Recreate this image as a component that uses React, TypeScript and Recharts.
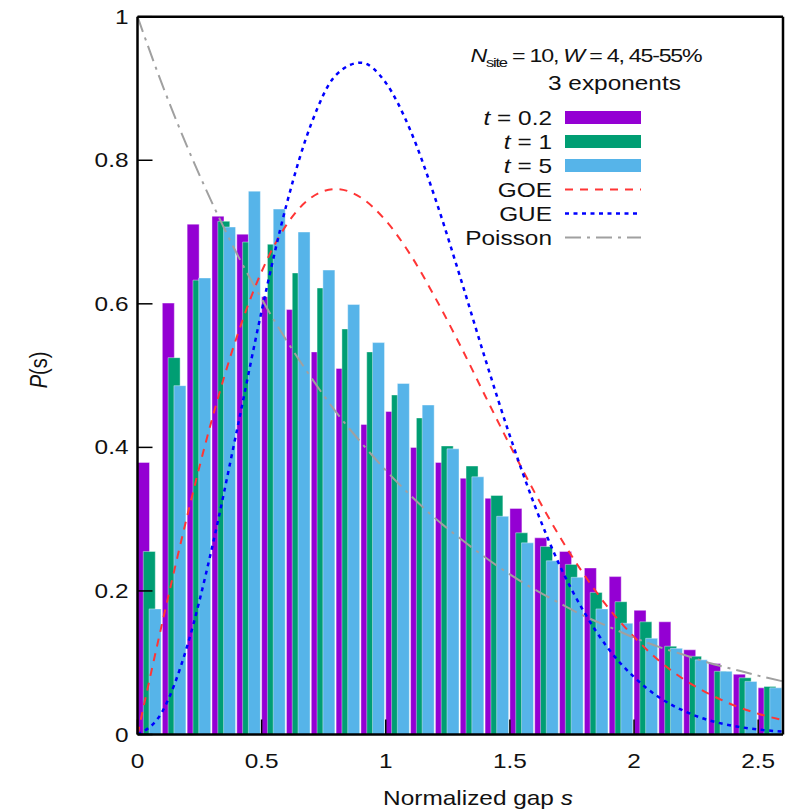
import { Bar, ComposedChart, Customized, Line, XAxis, YAxis } from "recharts";

// histogram bins (width 0.1), one bar per time slice
const binCentres = [
  0.05, 0.15, 0.25, 0.35, 0.45, 0.55, 0.65, 0.75, 0.85, 0.95, 1.05, 1.15, 1.25,
  1.35, 1.45, 1.55, 1.65, 1.75, 1.85, 1.95, 2.05, 2.15, 2.25, 2.35, 2.45, 2.55,
];
const pT02 = [
  0.379, 0.601, 0.711, 0.722, 0.697, 0.61, 0.592, 0.533, 0.51, 0.432, 0.45, 0.4, 0.379,
  0.357, 0.329, 0.315, 0.274, 0.255, 0.232, 0.22, 0.173, 0.157, 0.118, 0.099, 0.084, 0.065,
];
const pT1 = [
  0.255, 0.525, 0.633, 0.715, 0.686, 0.683, 0.643, 0.622, 0.565, 0.533, 0.473, 0.441, 0.402,
  0.374, 0.333, 0.281, 0.262, 0.237, 0.198, 0.185, 0.157, 0.123, 0.109, 0.088, 0.079, 0.067,
];
const pT5 = [
  0.175, 0.486, 0.636, 0.707, 0.757, 0.732, 0.7, 0.647, 0.599, 0.546, 0.489, 0.459, 0.398,
  0.359, 0.304, 0.267, 0.242, 0.219, 0.175, 0.155, 0.134, 0.12, 0.104, 0.088, 0.074, 0.065,
];

// reference distributions sampled on s = 0 .. 2.6
const sGrid = [
  0, 0.1, 0.2, 0.3, 0.4, 0.5, 0.6, 0.7, 0.8, 0.9, 1, 1.1, 1.2, 1.3,
  1.4, 1.5, 1.6, 1.7, 1.8, 1.9, 2, 2.1, 2.2, 2.3, 2.4, 2.5, 2.6,
];
const goe = [
  0, 0.156, 0.304, 0.439, 0.554, 0.645, 0.71, 0.748, 0.76, 0.748, 0.716, 0.668, 0.608, 0.542,
  0.472, 0.403, 0.337, 0.276, 0.222, 0.175, 0.136, 0.103, 0.077, 0.057, 0.041, 0.029, 0.02,
];
const gue = [
  0, 0.032, 0.123, 0.26, 0.423, 0.59, 0.738, 0.851, 0.919, 0.936, 0.908, 0.841, 0.746, 0.637,
  0.524, 0.416, 0.319, 0.236, 0.17, 0.118, 0.08, 0.052, 0.033, 0.02, 0.012, 0.007, 0.004,
];
const poisson = [
  1, 0.905, 0.819, 0.741, 0.67, 0.607, 0.549, 0.497, 0.449, 0.407, 0.368, 0.333, 0.301, 0.273,
  0.247, 0.223, 0.202, 0.183, 0.165, 0.15, 0.135, 0.122, 0.111, 0.1, 0.091, 0.082, 0.074,
];

const xTicks = [0, 0.5, 1, 1.5, 2, 2.5];
const yTicks = [0, 0.2, 0.4, 0.6, 0.8, 1];

const histData = binCentres.map((s, i) => ({ s, t02: pT02[i], t1: pT1[i], t5: pT5[i] }));
const curveData = sGrid.map((s, i) => ({ s, goe: goe[i], gue: gue[i], poisson: poisson[i] }));

const PURPLE = "#9400d3";
const GREEN = "#009e73";
const SKY = "#56b4e9";
const RED = "#ff3535";
const BLUE = "#0000ff";
const GREY = "#a0a0a0";

const FONT = '"Liberation Sans", Arial, sans-serif';
const STRETCH = 1.22;

const Wide = ({ x, y, anchor = "start", size = 20, rotate = 0, spacing = 0, children }: any) => (
  <text
    transform={`translate(${x},${y}) scale(${STRETCH},1)${rotate ? ` rotate(${rotate})` : ""}`}
    textAnchor={anchor}
    fontSize={size}
    fontFamily={FONT}
    letterSpacing={spacing}
    fill="#111"
  >
    {children}
  </text>
);

const fmt = (v: number) => String(v);

const axisLine = { stroke: "#000", strokeWidth: 2.5 };
const tickLine = { stroke: "#000", strokeWidth: 1.5 };

const keyRows = [
  { name: "0.2", kind: "bar", color: PURPLE },
  { name: "1", kind: "bar", color: GREEN },
  { name: "5", kind: "bar", color: SKY },
  { name: "GOE", kind: "line", color: RED, dash: "8 7", width: 2 },
  { name: "GUE", kind: "line", color: BLUE, dash: "4 4.5", width: 2.5 },
  { name: "Poisson", kind: "line", color: GREY, dash: "16 6 3 6", width: 2 },
];

const KeyBox = () => (
  <g>
    <Wide x={586} y={62} anchor="middle" size={19} spacing={-1}>
      <tspan fontStyle="italic">N</tspan>
      <tspan fontSize={13.5} dy={5}>site</tspan>
      <tspan dy={-5}> = 10, </tspan>
      <tspan fontStyle="italic">W</tspan>
      <tspan> = 4, 45-55%</tspan>
    </Wide>
    <Wide x={548} y={90}>3 exponents</Wide>
    {keyRows.map((r, i) => {
      const cy = 117.5 + i * 24;
      return (
        <g key={r.name}>
          <Wide x={552} y={cy + 7} anchor="end">
            {r.kind === "bar" ? (
              <>
                <tspan fontStyle="italic">t</tspan>
                <tspan> = {r.name}</tspan>
              </>
            ) : (
              r.name
            )}
          </Wide>
          {r.kind === "bar" ? (
            <rect x={565} y={cy - 6.5} width={76} height={13} fill={r.color} />
          ) : (
            <line
              x1={565}
              x2={641}
              y1={cy}
              y2={cy}
              stroke={r.color}
              strokeWidth={r.width}
              strokeDasharray={r.dash}
            />
          )}
        </g>
      );
    })}
    <Wide x={47} y={370} anchor="middle" rotate={-90}>
      <tspan fontStyle="italic">P</tspan>
      <tspan>(s)</tspan>
    </Wide>
    <Wide x={478} y={805} anchor="middle">
      <tspan>Normalized gap </tspan>
      <tspan fontStyle="italic">s</tspan>
    </Wide>
  </g>
);

const barEdge = { stroke: "#fff", strokeWidth: 0.8, strokeOpacity: 0.5 };

export default function App() {
  return (
    <div style={{ position: "absolute", left: 0, top: 0, background: "#fff" }}>
      <ComposedChart
        width={808}
        height={810}
        data={histData}
        margin={{ top: 15.7, right: 24, left: 77.5, bottom: 35.5 }}
        barCategoryGap={0}
        barGap="-25%"
      >
        <XAxis
          xAxisId="bins"
          dataKey="s"
          type="number"
          domain={[0, 2.6]}
          allowDataOverflow
          ticks={xTicks}
          height={40}
          axisLine={axisLine}
          tickLine={tickLine}
          tickSize={-15}
          tickMargin={48.5}
          tick={(p: any) => (
            <Wide x={p.x} y={p.y} anchor="middle">
              {fmt(p.payload.value)}
            </Wide>
          )}
        />
        <XAxis
          xAxisId="top"
          orientation="top"
          type="number"
          domain={[0, 2.6]}
          allowDataOverflow
          ticks={xTicks}
          height={1}
          axisLine={axisLine}
          tickLine={tickLine}
          tickSize={-15}
          tick={false}
        />
        <XAxis xAxisId="curve" dataKey="s" type="number" domain={[0, 2.6]} allowDataOverflow hide />
        <YAxis
          yAxisId="p"
          type="number"
          domain={[0, 1]}
          allowDataOverflow
          ticks={yTicks}
          width={60}
          axisLine={axisLine}
          tickLine={tickLine}
          tickSize={-15}
          tickMargin={24}
          tick={(p: any) => (
            <Wide x={p.x} y={p.y + 7} anchor="end">
              {fmt(p.payload.value)}
            </Wide>
          )}
        />
        <YAxis
          yAxisId="r"
          orientation="right"
          type="number"
          domain={[0, 1]}
          allowDataOverflow
          ticks={yTicks}
          width={1}
          axisLine={axisLine}
          tickLine={tickLine}
          tickSize={-15}
          tick={false}
        />
        <Bar xAxisId="bins" yAxisId="p" dataKey="t02" fill={PURPLE} {...barEdge} isAnimationActive={false} />
        <Bar xAxisId="bins" yAxisId="p" dataKey="t1" fill={GREEN} {...barEdge} isAnimationActive={false} />
        <Bar xAxisId="bins" yAxisId="p" dataKey="t5" fill={SKY} {...barEdge} isAnimationActive={false} />
        <Line
          data={curveData}
          xAxisId="curve"
          yAxisId="p"
          dataKey="goe"
          type="monotone"
          stroke={RED}
          strokeWidth={2}
          strokeDasharray="8 7"
          dot={false}
          activeDot={false}
          isAnimationActive={false}
        />
        <Line
          data={curveData}
          xAxisId="curve"
          yAxisId="p"
          dataKey="gue"
          type="monotone"
          stroke={BLUE}
          strokeWidth={2.5}
          strokeDasharray="4 4.5"
          dot={false}
          activeDot={false}
          isAnimationActive={false}
        />
        <Line
          data={curveData}
          xAxisId="curve"
          yAxisId="p"
          dataKey="poisson"
          type="monotone"
          stroke={GREY}
          strokeWidth={2}
          strokeDasharray="16 6 3 6"
          dot={false}
          activeDot={false}
          isAnimationActive={false}
        />
        <Customized component={<KeyBox />} />
      </ComposedChart>
    </div>
  );
}
